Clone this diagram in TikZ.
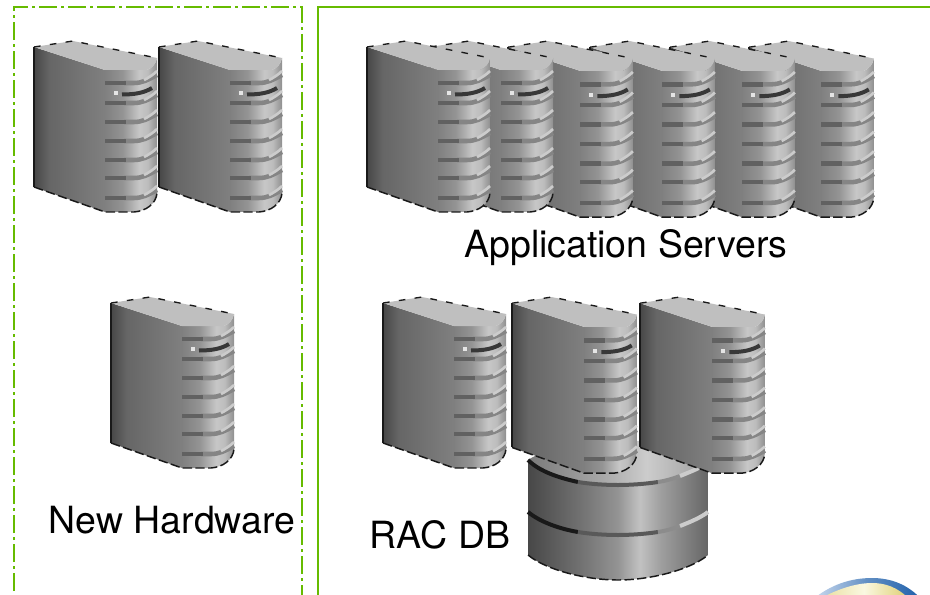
\documentclass[tikz,border=0pt]{standalone}
\usepackage{fontspec}
\setmainfont{TeX Gyre Heros}

\definecolor{framegreen}{RGB}{102,187,0}
\definecolor{globeblue}{RGB}{30,95,170}
\definecolor{globepale}{RGB}{205,220,240}
\definecolor{globeyellow}{RGB}{222,205,110}
\definecolor{globelight}{RGB}{250,248,225}

\pgfdeclarehorizontalshading{towerside}{100bp}{color(0bp)=(black!72); color(25bp)=(black!72); color(36bp)=(black!60); color(75bp)=(black!50); color(100bp)=(black!50)}
\pgfdeclarehorizontalshading{towerfront}{100bp}{color(0bp)=(black!50); color(25bp)=(black!50); color(42bp)=(black!42); color(58bp)=(black!22); color(66bp)=(black!26); color(75bp)=(black!44); color(100bp)=(black!44)}
\pgfdeclarehorizontalshading{diskside}{100bp}{color(0bp)=(black!72); color(25bp)=(black!72); color(40bp)=(black!55); color(50bp)=(black!42); color(56bp)=(black!24); color(62bp)=(black!38); color(75bp)=(black!60); color(100bp)=(black!60)}
\pgfdeclarehorizontalshading{disktop}{100bp}{color(0bp)=(black!52); color(25bp)=(black!52); color(45bp)=(black!35); color(58bp)=(black!20); color(75bp)=(black!38); color(100bp)=(black!38)}

\tikzset{
  towertop/.style={fill=black!25},
  towerband/.style={draw=black!62,line width=3.4pt},
  towerglint/.style={draw=black!20,line width=2pt},
  towerrim/.style={draw=black!90,line width=1.1pt,dash pattern=on 7pt off 2.5pt},
  towerridge/.style={draw=black!90,line width=1pt,dash pattern=on 5pt off 7pt},
  diskgroove/.style={line width=3pt},
  framebox/.style={draw=framegreen,line width=1.5pt},
  boxlabel/.style={font=\fontsize{28.1}{32}\selectfont,inner sep=0pt}
}

% one tower, #1 its scale, #2 and #3 its top left corner
\newcommand{\servertower}[3][1]{
\begin{scope}[shift={(#2,#3)},xscale=#1,yscale=#1*#1]
%Shape: side
\shade [shading=towerside] (0,7) -- (71,30) -- (71,172) -- (0,147) -- cycle ;
%Shape: front
\shade [shading=towerfront] (71,30) -- (113,30) .. controls (118,28) and (122,24) .. (123,18) -- (123,153) .. controls (122,164) and (112,171) .. (100,172) -- (71,172) -- cycle ;
%Shape: top
\fill [towertop] (0,7) -- (39,1) -- (123,18) .. controls (122,24) and (118,28) .. (113,30) -- (71,30) -- cycle ;
%Straight Lines
\draw [black!90,line width=1.3pt] (0,7) -- (0,147) ;
\draw [towerridge] (0,7) -- (39,1) -- (123,18) ;
\draw [towerrim] (0,147) -- (71,172) -- (100,172) .. controls (112,171) and (122,164) .. (123,153) ;
%bands
\foreach \bandy in {43,63,82,101,120,138,158}{
  \draw [towerband,black!48] (90,\bandy) -- (100,\bandy) .. controls (108,\bandy) and (114,\bandy-3) .. (123,\bandy-8) ;
  \draw [towerband] (71,\bandy) -- (92,\bandy) ;
  \draw [towerglint] (110,\bandy-3) .. controls (114,\bandy-5) and (119,\bandy-8) .. (123,\bandy-12) ;
}
%Shape: lamp
\fill [black!10] (80,51) rectangle (84,55) ;
\draw [black!78,line width=3pt] (88,54.5) .. controls (100,54.5) and (110,53) .. (118,48) ;
\end{scope}
}

\begin{document}
\begin{tikzpicture}[x=0.75pt,y=0.75pt,yscale=-1,xscale=1]
\useasboundingbox (0,0) rectangle (930,595);
\clip (0,0) rectangle (930,595);

%Shape: Rectangle
\draw [framebox,dash pattern=on 13.5pt off 3pt on 2.25pt off 3pt] (14,620) -- (14,7) -- (302,7) -- (302,620) ;
%Shape: Rectangle
\draw [framebox] (318,620) -- (318,7) -- (950,7) ;

%Shape: Globe
\shade [left color=globepale,right color=globeblue,middle color=globeblue!70] (812,600) .. controls (830,585) and (850,578) .. (872,578) .. controls (890,578) and (908,584) .. (922,600) -- cycle ;
\shade [left color=globeyellow!70,right color=globeyellow,middle color=globelight] (818,600) .. controls (835,590) and (855,583) .. (872,583) .. controls (885,583) and (898,587) .. (910,600) -- cycle ;

%Shape: Disk
\shade [shading=diskside] (528,460) -- (708,460) -- (708,555) .. controls (690,570) and (650,580) .. (618,580) .. controls (586,580) and (546,570) .. (528,555) -- cycle ;
\shade [shading=disktop] (528,460) .. controls (546,448) and (586,440) .. (618,440) .. controls (650,440) and (690,448) .. (708,460) .. controls (690,477) and (650,485) .. (618,485) .. controls (586,485) and (546,477) .. (528,460) -- cycle ;
%Groove
\draw [diskgroove,black!90] (528,460) .. controls (540,472) and (560,478) .. (578,482) ;
\draw [diskgroove,black!65] (578,482) .. controls (590,484) and (605,485) .. (618,485) .. controls (630,485) and (645,484) .. (658,482) ;
\draw [diskgroove,black!45] (658,482) .. controls (665,481) and (672,479) .. (680,476) ;
\draw [diskgroove,black!20] (680,476) .. controls (690,472) and (700,468) .. (708,463) ;
\draw [diskgroove,black!90] (528,512) .. controls (540,522) and (560,529) .. (578,532) ;
\draw [diskgroove,black!65] (578,532) .. controls (590,534) and (605,535) .. (618,535) .. controls (630,535) and (645,534) .. (658,532) ;
\draw [diskgroove,black!45] (658,532) .. controls (665,531) and (672,529) .. (680,526) ;
\draw [diskgroove,black!20] (680,526) .. controls (690,522) and (700,518) .. (708,512) ;
\draw [towerrim] (528,555) .. controls (546,570) and (586,580) .. (618,580) .. controls (650,580) and (690,570) .. (708,555) ;

% Servers
\servertower{34}{40}
\servertower{159}{40}
\servertower{111}{296}
\foreach \towerx in {749,670,590,508}{
  \servertower[1.015]{\towerx}{40}
}
\servertower{430}{40}
\servertower{367}{40}
\servertower{383}{296}
\servertower[1.015]{512}{296}
\servertower[1.015]{640}{296}

% Text Node
\draw (626,248) node [boxlabel] (appservers) {Application Servers};
% Text Node
\draw (172,520) node [boxlabel] (newhardware) {New Hardware};
% Text Node
\draw (440,535) node [boxlabel] (racdb) {RAC DB};

\end{tikzpicture}
\end{document}
